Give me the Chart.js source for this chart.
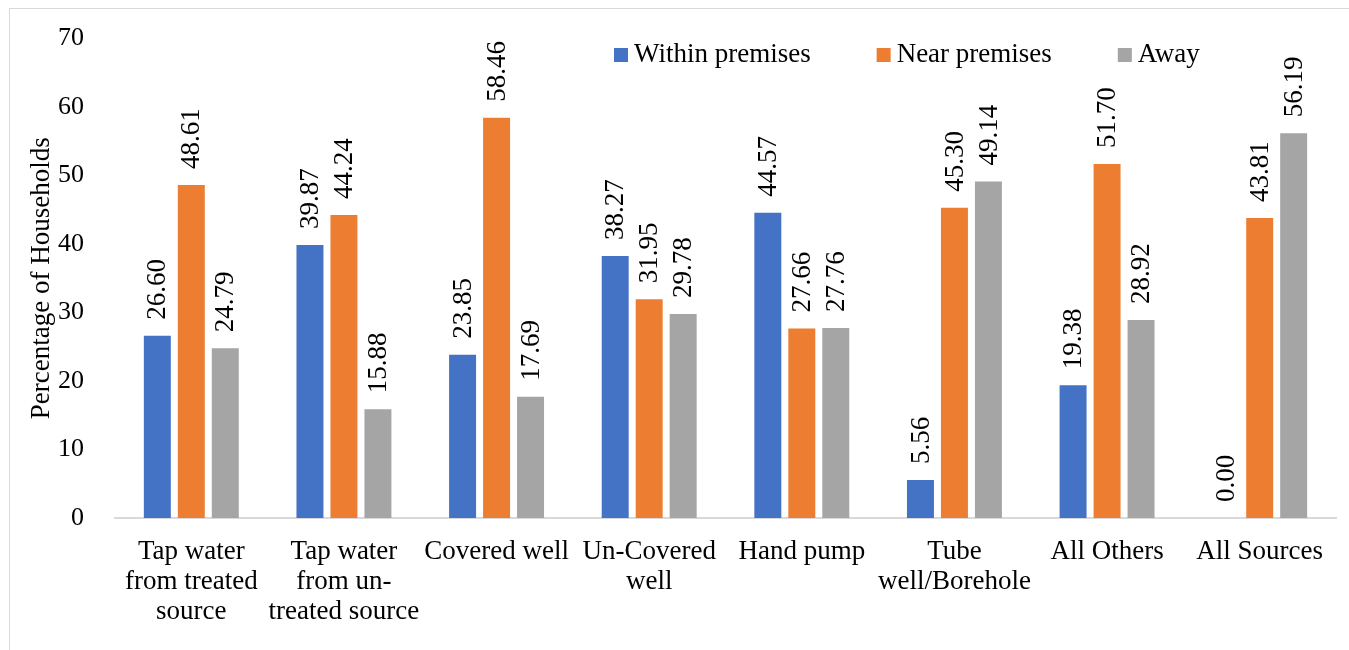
<!DOCTYPE html>
<html>
<head>
<meta charset="utf-8">
<script src="https://cdn.jsdelivr.net/npm/chart.js@4.4.1/dist/chart.umd.min.js"></script>
<style>
  html, body { margin: 0; padding: 0; background: #fff; }
  #wrap { width: 1349px; height: 650px; position: relative; }
</style>
</head>
<body>
<div id="wrap"><canvas id="chart"></canvas></div>
<script>
// ---- data ----
var categories = [
  ['Tap water', 'from treated', 'source'],
  ['Tap water', 'from un-', 'treated source'],
  'Covered well',
  ['Un-Covered', 'well'],
  'Hand pump',
  ['Tube', 'well/Borehole'],
  'All Others',
  'All Sources'
];
var seriesNames = ['Within premises', 'Near premises', 'Away'];
var withinPremises = [26.60, 39.87, 23.85, 38.27, 44.57, 5.56, 19.38, 0.00];
var nearPremises   = [48.61, 44.24, 58.46, 31.95, 27.66, 45.30, 51.70, 43.81];
var away           = [24.79, 15.88, 17.69, 29.78, 27.76, 49.14, 28.92, 56.19];
var yTitle = 'Percentage of Households';

var FONT = "'Liberation Serif', 'Times New Roman', serif";

// ---- plugins ----
var frame = {
  id: 'frame',
  beforeDraw: function(chart) {
    var ctx = chart.ctx;
    ctx.save();
    ctx.strokeStyle = '#d9d9d9';
    ctx.lineWidth = 1;
    ctx.strokeRect(9.5, 8.5, chart.width + 20, chart.height + 20);
    ctx.restore();
  }
};

var valueLabels = {
  id: 'valueLabels',
  afterDatasetsDraw: function(chart) {
    var ctx = chart.ctx;
    ctx.save();
    ctx.font = '27px ' + FONT;
    ctx.fillStyle = '#000';
    ctx.textAlign = 'left';
    ctx.textBaseline = 'middle';
    chart.data.datasets.forEach(function(ds, i) {
      chart.getDatasetMeta(i).data.forEach(function(bar, j) {
        ctx.save();
        ctx.translate(bar.x + 1, bar.y - 16);
        ctx.rotate(-Math.PI / 2);
        ctx.fillText(ds.data[j].toFixed(2), 0, 0);
        ctx.restore();
      });
    });
    ctx.restore();
  }
};

// legend inside the plot, top right, plus the y axis title
var extras = {
  id: 'extras',
  afterDraw: function(chart) {
    var ctx = chart.ctx;
    var area = chart.chartArea;
    ctx.save();
    ctx.font = '27px ' + FONT;
    ctx.textBaseline = 'middle';
    ctx.textAlign = 'left';
    var x = 614, y = 55;
    chart.data.datasets.forEach(function(ds) {
      ctx.fillStyle = ds.backgroundColor;
      ctx.fillRect(x, y - 7, 14, 14);
      ctx.fillStyle = '#000';
      ctx.fillText(ds.label, x + 20, y);
      x += 20 + ctx.measureText(ds.label).width + 66;
    });

    ctx.translate(42, (area.top + area.bottom) / 2);
    ctx.rotate(-Math.PI / 2);
    ctx.textAlign = 'center';
    ctx.fillText(yTitle, 0, 0);
    ctx.restore();
  }
};

var colors = ['#4472C4', '#ED7D31', '#A5A5A5'];
var values = [withinPremises, nearPremises, away];

new Chart(document.getElementById('chart'), {
  type: 'bar',
  data: {
    labels: categories,
    datasets: seriesNames.map(function(name, i) {
      return {
        label: name, data: values[i],
        backgroundColor: colors[i], borderWidth: 0,
        categoryPercentage: 0.668, barPercentage: 0.794
      };
    })
  },
  options: {
    responsive: true, maintainAspectRatio: false,
    animation: false,
    layout: { padding: { top: 34, right: 13, left: 0, bottom: 0 } },
    plugins: {
      legend: { display: false },
      tooltip: { enabled: false }
    },
    scales: {
      x: {
        grid: { display: false },
        border: { display: true, color: '#d9d9d9', width: 2 },
        ticks: { color: '#000', padding: 11, maxRotation: 0, autoSkip: false,
                 font: { family: FONT, size: 27, lineHeight: 1.11 } },
        afterFit: function(s) { s.height = 132; }
      },
      y: {
        min: 0, max: 70,
        grid: { display: false },
        border: { display: false },
        ticks: { stepSize: 10, color: '#000', padding: 23,
                 font: { family: FONT, size: 26 } },
        afterFit: function(s) { s.width = 115; }
      }
    }
  },
  plugins: [frame, valueLabels, extras]
});
</script>
</body>
</html>
